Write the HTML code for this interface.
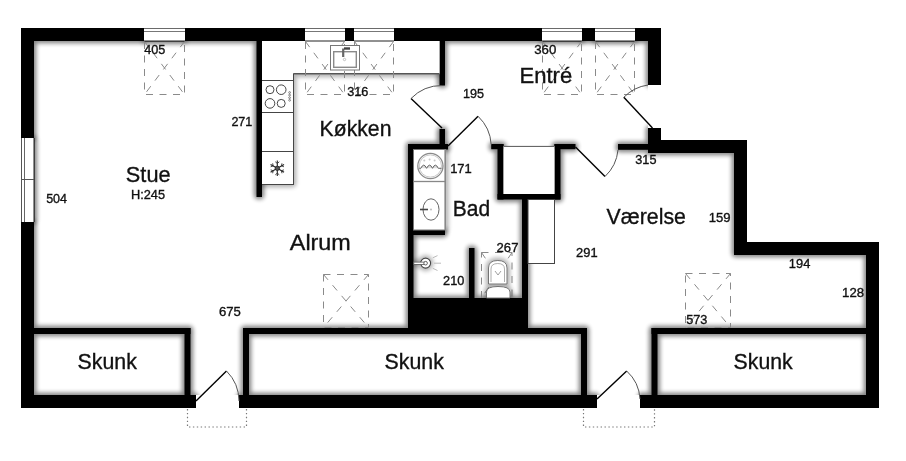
<!DOCTYPE html>
<html><head><meta charset="utf-8"><style>
html,body{margin:0;padding:0;background:#fff;}
svg{display:block;}
text{font-family:"Liberation Sans",sans-serif;fill:#111;stroke:#111;stroke-width:0.35px;}
</style></head><body>
<svg width="906" height="461" viewBox="0 0 906 461">
<defs>
<filter id="sh" x="-5%" y="-5%" width="110%" height="110%">
<feGaussianBlur in="SourceAlpha" stdDeviation="1.5" result="a1"/>
<feComponentTransfer in="a1" result="a2"><feFuncA type="linear" slope="12" intercept="-0.1"/></feComponentTransfer>
<feGaussianBlur in="a2" stdDeviation="2" result="a3"/>
<feComponentTransfer in="a3" result="c"><feFuncA type="linear" slope="0.48"/></feComponentTransfer>
<feMerge><feMergeNode in="c"/><feMergeNode in="SourceGraphic"/></feMerge>
</filter>
<filter id="sh2" x="-5%" y="-5%" width="110%" height="110%">
<feGaussianBlur in="SourceAlpha" stdDeviation="1.5" result="a1"/>
<feComponentTransfer in="a1" result="a2"><feFuncA type="linear" slope="12" intercept="-0.1"/></feComponentTransfer>
<feGaussianBlur in="a2" stdDeviation="2" result="a3"/>
<feComponentTransfer in="a3" result="c"><feFuncA type="linear" slope="0.3"/></feComponentTransfer>
<feMerge><feMergeNode in="c"/><feMergeNode in="SourceGraphic"/></feMerge>
</filter>
<filter id="idf" x="0" y="0" width="1" height="1"><feOffset dx="0" dy="0"/></filter>
</defs>
<rect width="906" height="461" fill="#fff"/>
<g filter="url(#sh)">
<rect x="21" y="28" width="123" height="13" fill="#000"/><rect x="185" y="28" width="120" height="13" fill="#000"/><rect x="345" y="28" width="9" height="13" fill="#000"/><rect x="394" y="28" width="148" height="13" fill="#000"/><rect x="582" y="28" width="13" height="13" fill="#000"/><rect x="635" y="28" width="26" height="13" fill="#000"/><rect x="21" y="28" width="13" height="110" fill="#000"/><rect x="21" y="222" width="13" height="186" fill="#000"/><rect x="648" y="28" width="13" height="57" fill="#000"/><rect x="648" y="128" width="13" height="25" fill="#000"/><rect x="648" y="140" width="99" height="13" fill="#000"/><rect x="734" y="140" width="13" height="115" fill="#000"/><rect x="734" y="242" width="145" height="13" fill="#000"/><rect x="866" y="242" width="13" height="166" fill="#000"/><rect x="21" y="395" width="175" height="13" fill="#000"/><rect x="239" y="395" width="358" height="13" fill="#000"/><rect x="640" y="395" width="239" height="13" fill="#000"/><rect x="256.5" y="41" width="5.5" height="156" fill="#000"/><rect x="439.5" y="41" width="5.5" height="44.5" fill="#000"/><rect x="439.5" y="129" width="5.5" height="20.5" fill="#000"/><rect x="408" y="144" width="40" height="5.5" fill="#000"/><rect x="408" y="144" width="5.5" height="190" fill="#000"/><rect x="408" y="298" width="120" height="36" fill="#000"/><rect x="522" y="194" width="6" height="140" fill="#000"/><rect x="469" y="248" width="5.5" height="50" fill="#000"/><rect x="413" y="230" width="32" height="5" fill="#000"/><rect x="491.2" y="144" width="12.3" height="5.2" fill="#000"/><rect x="497.5" y="144" width="6.0" height="55.5" fill="#000"/><rect x="497.5" y="194" width="63.0" height="5.5" fill="#000"/><rect x="554.5" y="144" width="6.0" height="55.5" fill="#000"/><rect x="554.5" y="144" width="21.0" height="5.2" fill="#000"/><rect x="618" y="144" width="30" height="5.8" fill="#000"/><rect x="34" y="328" width="156.5" height="6" fill="#000"/><rect x="184.5" y="328" width="6.0" height="67" fill="#000"/><rect x="243" y="328" width="344" height="6" fill="#000"/><rect x="243" y="328" width="6" height="67" fill="#000"/><rect x="581" y="328" width="6" height="67" fill="#000"/><rect x="651.5" y="328" width="214.5" height="6" fill="#000"/><rect x="651.5" y="328" width="6.0" height="67" fill="#000"/>
</g>
<g filter="url(#sh)"><rect x="144" y="28" width="41" height="13" fill="#fff"/><line x1="144" y1="28.5" x2="185" y2="28.5" stroke="#6a6a6a" stroke-width="1" /><line x1="144" y1="31.5" x2="185" y2="31.5" stroke="#777" stroke-width="1" /><line x1="144" y1="41" x2="185" y2="41" stroke="#222" stroke-width="1" /><rect x="305" y="28" width="40" height="13" fill="#fff"/><line x1="305" y1="28.5" x2="345" y2="28.5" stroke="#6a6a6a" stroke-width="1" /><line x1="305" y1="31.5" x2="345" y2="31.5" stroke="#777" stroke-width="1" /><line x1="305" y1="41" x2="345" y2="41" stroke="#222" stroke-width="1" /><rect x="354" y="28" width="40" height="13" fill="#fff"/><line x1="354" y1="28.5" x2="394" y2="28.5" stroke="#6a6a6a" stroke-width="1" /><line x1="354" y1="31.5" x2="394" y2="31.5" stroke="#777" stroke-width="1" /><line x1="354" y1="41" x2="394" y2="41" stroke="#222" stroke-width="1" /><rect x="542" y="28" width="40" height="13" fill="#fff"/><line x1="542" y1="28.5" x2="582" y2="28.5" stroke="#6a6a6a" stroke-width="1" /><line x1="542" y1="31.5" x2="582" y2="31.5" stroke="#777" stroke-width="1" /><line x1="542" y1="41" x2="582" y2="41" stroke="#222" stroke-width="1" /><rect x="595" y="28" width="40" height="13" fill="#fff"/><line x1="595" y1="28.5" x2="635" y2="28.5" stroke="#6a6a6a" stroke-width="1" /><line x1="595" y1="31.5" x2="635" y2="31.5" stroke="#777" stroke-width="1" /><line x1="595" y1="41" x2="635" y2="41" stroke="#222" stroke-width="1" /><rect x="21" y="138" width="13" height="84" fill="#fff"/><line x1="21.5" y1="138" x2="21.5" y2="222" stroke="#555" stroke-width="1" /><line x1="24.5" y1="138" x2="24.5" y2="222" stroke="#666" stroke-width="1" /><line x1="34" y1="138" x2="34" y2="222" stroke="#222" stroke-width="1" /><line x1="21" y1="179.5" x2="34" y2="179.5" stroke="#555" stroke-width="1" /></g>
<g><path d="M481.5 252.5 H512 V298 M481.5 298 V252.5" fill="none" stroke="#8a8a8a" stroke-width="1" stroke-dasharray="7 6.5"/><line x1="481.5" y1="252.5" x2="512" y2="298" stroke="#8a8a8a" stroke-width="1" stroke-dasharray="7 7"/><line x1="512" y1="252.5" x2="481.5" y2="298" stroke="#8a8a8a" stroke-width="1" stroke-dasharray="7 7"/></g>
<g filter="url(#sh2)"><path d="M262 41 H439.5 V73.8 H293.5 V184.5 H262 Z" fill="#fff"/><line x1="293.5" y1="73.8" x2="439.5" y2="73.8" stroke="#555" stroke-width="1.6" /><line x1="293.5" y1="73.5" x2="293.5" y2="185" stroke="#444" stroke-width="1" /><line x1="262" y1="80.5" x2="293.5" y2="80.5" stroke="#444" stroke-width="1" /><line x1="262" y1="112.5" x2="293.5" y2="112.5" stroke="#444" stroke-width="1" /><line x1="262" y1="151.5" x2="293.5" y2="151.5" stroke="#444" stroke-width="1" /><line x1="262" y1="184.5" x2="293.5" y2="184.5" stroke="#444" stroke-width="1" /><rect x="413.5" y="149.5" width="31.8" height="80.5" fill="#fff" stroke="#777" stroke-width="1"/><line x1="445.3" y1="149.5" x2="445.3" y2="230" stroke="#888" stroke-width="1.6" /><circle cx="425.6" cy="263.1" r="5" fill="#fff" stroke="#444" stroke-width="1.1"/><rect x="413.8" y="262.1" width="11.8" height="2.3" fill="#fff" stroke="#555" stroke-width="0.8"/><circle cx="425.6" cy="263.2" r="1.8" fill="#fff" stroke="#555" stroke-width="0.9"/><path d="M488.5 284 V268 Q488.5 260.5 497.8 260.5 Q507 260.5 507 268 V284 Z" fill="#fff" stroke="#666" stroke-width="0.9"/><path d="M486.5 298 V292 Q486.5 286.5 498 286.5 Q510 286.5 510 292 V298 Z" fill="#fff" stroke="#666" stroke-width="0.9"/></g>
<g><circle cx="270" cy="89.7" r="4" fill="none" stroke="#333" stroke-width="0.9"/><circle cx="281.2" cy="89.7" r="4.8" fill="none" stroke="#333" stroke-width="0.9"/><circle cx="270" cy="103.4" r="4.8" fill="none" stroke="#333" stroke-width="0.9"/><circle cx="281.2" cy="103.4" r="4" fill="none" stroke="#333" stroke-width="0.9"/><circle cx="289.6" cy="92.5" r="0.9" fill="none" stroke="#444" stroke-width="0.6"/><circle cx="289.6" cy="95.1" r="0.9" fill="none" stroke="#444" stroke-width="0.6"/><circle cx="289.6" cy="97.7" r="0.9" fill="none" stroke="#444" stroke-width="0.6"/><circle cx="289.6" cy="100.3" r="0.9" fill="none" stroke="#444" stroke-width="0.6"/><line x1="277.3" y1="168.3" x2="277.3" y2="160.5" stroke="#222" stroke-width="1.1" /><line x1="277.3" y1="163.46" x2="279.29" y2="161.79" stroke="#333" stroke-width="0.9" /><line x1="277.3" y1="163.46" x2="275.31" y2="161.79" stroke="#333" stroke-width="0.9" /><line x1="277.3" y1="168.3" x2="270.55" y2="164.4" stroke="#222" stroke-width="1.1" /><line x1="273.11" y1="165.88" x2="272.66" y2="163.32" stroke="#333" stroke-width="0.9" /><line x1="273.11" y1="165.88" x2="270.67" y2="166.77" stroke="#333" stroke-width="0.9" /><line x1="277.3" y1="168.3" x2="270.55" y2="172.2" stroke="#222" stroke-width="1.1" /><line x1="273.11" y1="170.72" x2="270.67" y2="169.83" stroke="#333" stroke-width="0.9" /><line x1="273.11" y1="170.72" x2="272.66" y2="173.28" stroke="#333" stroke-width="0.9" /><line x1="277.3" y1="168.3" x2="277.3" y2="176.1" stroke="#222" stroke-width="1.1" /><line x1="277.3" y1="173.14" x2="275.31" y2="174.81" stroke="#333" stroke-width="0.9" /><line x1="277.3" y1="173.14" x2="279.29" y2="174.81" stroke="#333" stroke-width="0.9" /><line x1="277.3" y1="168.3" x2="284.05" y2="172.2" stroke="#222" stroke-width="1.1" /><line x1="281.49" y1="170.72" x2="281.94" y2="173.28" stroke="#333" stroke-width="0.9" /><line x1="281.49" y1="170.72" x2="283.93" y2="169.83" stroke="#333" stroke-width="0.9" /><line x1="277.3" y1="168.3" x2="284.05" y2="164.4" stroke="#222" stroke-width="1.1" /><line x1="281.49" y1="165.88" x2="283.93" y2="166.77" stroke="#333" stroke-width="0.9" /><line x1="281.49" y1="165.88" x2="281.94" y2="163.32" stroke="#333" stroke-width="0.9" /><circle cx="277.3" cy="168.3" r="2.2" fill="#555" stroke="#222" stroke-width="0.8"/><line x1="413.5" y1="181.5" x2="445" y2="181.5" stroke="#888" stroke-width="1.3" /><circle cx="430.4" cy="166" r="12.6" fill="none" stroke="#8a8a8a" stroke-width="1.3"/><circle cx="430.4" cy="166" r="11.1" fill="none" stroke="#bbb" stroke-width="0.8"/><path d="M419.3 168.3 H420.8 Q423.7 162 426.6 168.3 Q429.6 162 432.5 168.3 Q435.4 162 438.3 168.3 H441.5" fill="#ddd" stroke="#555" stroke-width="0.9"/><circle cx="424.3" cy="160.6" r="1" fill="#c8c8c8"/><circle cx="429.6" cy="159.4" r="1" fill="#c8c8c8"/><circle cx="434.6" cy="160.6" r="1" fill="#c8c8c8"/><ellipse cx="431" cy="209.5" rx="8" ry="10.7" fill="none" stroke="#555" stroke-width="0.9"/><line x1="420" y1="209.5" x2="428" y2="209.5" stroke="#444" stroke-width="1.6" /><circle cx="431" cy="209.5" r="1" fill="#bbb"/><line x1="432.8" y1="257.8" x2="437.5" y2="255.6" stroke="#bbb" stroke-width="1" /><line x1="434" y1="263.2" x2="441" y2="263.2" stroke="#bbb" stroke-width="1" /><line x1="432.8" y1="268.3" x2="437.5" y2="270.5" stroke="#bbb" stroke-width="1" /><path d="M491 282 V269 Q491 263.5 497.8 263.5 Q504.5 263.5 504.5 269 V282" fill="none" stroke="#999" stroke-width="0.8"/><line x1="495" y1="271" x2="498" y2="275" stroke="#888" stroke-width="0.8" /><line x1="501" y1="271" x2="498" y2="275" stroke="#888" stroke-width="0.8" /><rect x="528" y="199.5" width="26.5" height="64" fill="#fff" stroke="#444" stroke-width="1"/><rect x="503.5" y="146" width="51.0" height="48" fill="#fff"/><line x1="503.5" y1="146.4" x2="554.5" y2="146.4" stroke="#555" stroke-width="1" /></g>
<g><rect x="144" y="28" width="41" height="13" fill="#fff"/><line x1="144" y1="28.5" x2="185" y2="28.5" stroke="#6a6a6a" stroke-width="1" /><line x1="144" y1="31.5" x2="185" y2="31.5" stroke="#777" stroke-width="1" /><line x1="144" y1="41" x2="185" y2="41" stroke="#222" stroke-width="1" /><rect x="305" y="28" width="40" height="13" fill="#fff"/><line x1="305" y1="28.5" x2="345" y2="28.5" stroke="#6a6a6a" stroke-width="1" /><line x1="305" y1="31.5" x2="345" y2="31.5" stroke="#777" stroke-width="1" /><line x1="305" y1="41" x2="345" y2="41" stroke="#222" stroke-width="1" /><rect x="354" y="28" width="40" height="13" fill="#fff"/><line x1="354" y1="28.5" x2="394" y2="28.5" stroke="#6a6a6a" stroke-width="1" /><line x1="354" y1="31.5" x2="394" y2="31.5" stroke="#777" stroke-width="1" /><line x1="354" y1="41" x2="394" y2="41" stroke="#222" stroke-width="1" /><rect x="542" y="28" width="40" height="13" fill="#fff"/><line x1="542" y1="28.5" x2="582" y2="28.5" stroke="#6a6a6a" stroke-width="1" /><line x1="542" y1="31.5" x2="582" y2="31.5" stroke="#777" stroke-width="1" /><line x1="542" y1="41" x2="582" y2="41" stroke="#222" stroke-width="1" /><rect x="595" y="28" width="40" height="13" fill="#fff"/><line x1="595" y1="28.5" x2="635" y2="28.5" stroke="#6a6a6a" stroke-width="1" /><line x1="595" y1="31.5" x2="635" y2="31.5" stroke="#777" stroke-width="1" /><line x1="595" y1="41" x2="635" y2="41" stroke="#222" stroke-width="1" /><rect x="21" y="138" width="13" height="84" fill="#fff"/><line x1="21.5" y1="138" x2="21.5" y2="222" stroke="#555" stroke-width="1" /><line x1="24.5" y1="138" x2="24.5" y2="222" stroke="#666" stroke-width="1" /><line x1="34" y1="138" x2="34" y2="222" stroke="#222" stroke-width="1" /><line x1="21" y1="179.5" x2="34" y2="179.5" stroke="#555" stroke-width="1" /></g>
<path d="M0 0 H906 V461 H0 Z M21 28 H661 V140 H747 V242 H879 V408 H21 Z" fill="#fff" fill-rule="evenodd"/>
<rect x="196" y="395" width="43" height="13" fill="#fff"/><rect x="597" y="395" width="43" height="13" fill="#fff"/><rect x="648" y="85" width="13" height="43" fill="#fff"/>

<g><path d="M144.5 42 V94.5 H184.5 V42" fill="none" stroke="#8a8a8a" stroke-width="1" stroke-dasharray="7 6.5"/><line x1="144.5" y1="41.5" x2="184.5" y2="94.5" stroke="#8a8a8a" stroke-width="1" stroke-dasharray="7 7"/><line x1="184.5" y1="41.5" x2="144.5" y2="94.5" stroke="#8a8a8a" stroke-width="1" stroke-dasharray="7 7"/><path d="M305.5 42 V94.5 H344.5 V42" fill="none" stroke="#8a8a8a" stroke-width="1" stroke-dasharray="7 6.5"/><line x1="305.5" y1="41.5" x2="344.5" y2="94.5" stroke="#8a8a8a" stroke-width="1" stroke-dasharray="7 7"/><line x1="344.5" y1="41.5" x2="305.5" y2="94.5" stroke="#8a8a8a" stroke-width="1" stroke-dasharray="7 7"/><path d="M354.5 42 V94.5 H393.5 V42" fill="none" stroke="#8a8a8a" stroke-width="1" stroke-dasharray="7 6.5"/><line x1="354.5" y1="41.5" x2="393.5" y2="94.5" stroke="#8a8a8a" stroke-width="1" stroke-dasharray="7 7"/><line x1="393.5" y1="41.5" x2="354.5" y2="94.5" stroke="#8a8a8a" stroke-width="1" stroke-dasharray="7 7"/><path d="M542.5 42 V94.5 H581.5 V42" fill="none" stroke="#8a8a8a" stroke-width="1" stroke-dasharray="7 6.5"/><line x1="542.5" y1="41.5" x2="581.5" y2="94.5" stroke="#8a8a8a" stroke-width="1" stroke-dasharray="7 7"/><line x1="581.5" y1="41.5" x2="542.5" y2="94.5" stroke="#8a8a8a" stroke-width="1" stroke-dasharray="7 7"/><path d="M595.5 42 V94.5 H634.5 V42" fill="none" stroke="#8a8a8a" stroke-width="1" stroke-dasharray="7 6.5"/><line x1="595.5" y1="41.5" x2="634.5" y2="94.5" stroke="#8a8a8a" stroke-width="1" stroke-dasharray="7 7"/><line x1="634.5" y1="41.5" x2="595.5" y2="94.5" stroke="#8a8a8a" stroke-width="1" stroke-dasharray="7 7"/><path d="M323.5 274.5 H368.5 V327.5 H323.5 Z" fill="none" stroke="#8a8a8a" stroke-width="1" stroke-dasharray="7 6.5"/><line x1="323.5" y1="274.5" x2="368.5" y2="327.5" stroke="#8a8a8a" stroke-width="1" stroke-dasharray="7 7"/><line x1="368.5" y1="274.5" x2="323.5" y2="327.5" stroke="#8a8a8a" stroke-width="1" stroke-dasharray="7 7"/><path d="M685.5 273.5 H730.5 V327.5 H685.5 Z" fill="none" stroke="#8a8a8a" stroke-width="1" stroke-dasharray="7 6.5"/><line x1="685.5" y1="273.5" x2="730.5" y2="327.5" stroke="#8a8a8a" stroke-width="1" stroke-dasharray="7 7"/><line x1="730.5" y1="273.5" x2="685.5" y2="327.5" stroke="#8a8a8a" stroke-width="1" stroke-dasharray="7 7"/><path d="M187.5 409 V427 H246.5 V409" fill="none" stroke="#777" stroke-width="1.2" stroke-dasharray="1.4 2.5"/><path d="M583.5 409 V427 H654.5 V409" fill="none" stroke="#777" stroke-width="1.2" stroke-dasharray="1.4 2.5"/></g>
<g><rect x="330.5" y="45.5" width="29" height="24.5" fill="#fff" stroke="#777" stroke-width="1"/><rect x="333.7" y="51.7" width="22.6" height="15.6" fill="none" stroke="#8a8a8a" stroke-width="1.4"/><path d="M343.2 57 V48.5" fill="none" stroke="#666" stroke-width="2.2"/><path d="M344 48.5 H350" fill="none" stroke="#444" stroke-width="2.4"/><circle cx="344.5" cy="59.5" r="1.2" fill="none" stroke="#aaa" stroke-width="0.7"/></g>
<g><line x1="442" y1="128" x2="411" y2="98.5" stroke="#000" stroke-width="1.4" /><path d="M411 98.5 A42.79 42.79 0 0 1 442 85.5" fill="none" stroke="#555" stroke-width="1"/><line x1="448" y1="146" x2="478.1" y2="116.3" stroke="#000" stroke-width="1.4" /><path d="M478.1 116.3 A42.29 42.29 0 0 1 491.2 144.5" fill="none" stroke="#555" stroke-width="1"/><line x1="652.5" y1="128" x2="623.8" y2="97.3" stroke="#000" stroke-width="1.4" /><path d="M623.8 97.3 A42.03 42.03 0 0 1 648 85" fill="none" stroke="#555" stroke-width="1"/><line x1="575.5" y1="147" x2="605" y2="176.5" stroke="#000" stroke-width="1.4" /><path d="M605 176.5 A42 42 0 0 0 618 150" fill="none" stroke="#555" stroke-width="1"/><line x1="196" y1="401" x2="226.5" y2="371" stroke="#000" stroke-width="1.4" /><path d="M226.5 371 A42.78 42.78 0 0 1 239 401" fill="none" stroke="#555" stroke-width="1"/><line x1="597" y1="399" x2="626.7" y2="371" stroke="#000" stroke-width="1.4" /><path d="M626.7 371 A40.82 40.82 0 0 1 640 399" fill="none" stroke="#555" stroke-width="1"/></g>
<g filter="url(#idf)"><text x="144.31" y="53.97" font-size="12.70" textLength="21.10" lengthAdjust="spacingAndGlyphs">405</text><text x="347.20" y="95.97" font-size="12.70" textLength="21.22" lengthAdjust="spacingAndGlyphs">316</text><text x="534.25" y="54.36" font-size="12.70" textLength="22.09" lengthAdjust="spacingAndGlyphs">360</text><text x="462.90" y="97.83" font-size="12.70" textLength="21.07" lengthAdjust="spacingAndGlyphs">195</text><text x="231.39" y="125.69" font-size="12.70" textLength="20.99" lengthAdjust="spacingAndGlyphs">271</text><text x="450.17" y="172.73" font-size="12.70" textLength="21.64" lengthAdjust="spacingAndGlyphs">171</text><text x="46.13" y="203.34" font-size="12.70" textLength="20.92" lengthAdjust="spacingAndGlyphs">504</text><text x="130.99" y="199.21" font-size="12.70" textLength="34.07" lengthAdjust="spacingAndGlyphs">H:245</text><text x="635.29" y="163.69" font-size="12.70" textLength="21.15" lengthAdjust="spacingAndGlyphs">315</text><text x="708.73" y="221.69" font-size="12.70" textLength="21.81" lengthAdjust="spacingAndGlyphs">159</text><text x="576.09" y="257.35" font-size="12.70" textLength="21.52" lengthAdjust="spacingAndGlyphs">291</text><text x="496.59" y="251.97" font-size="12.70" textLength="21.84" lengthAdjust="spacingAndGlyphs">267</text><text x="443.10" y="284.97" font-size="12.70" textLength="21.23" lengthAdjust="spacingAndGlyphs">210</text><text x="219.00" y="315.83" font-size="12.70" textLength="21.89" lengthAdjust="spacingAndGlyphs">675</text><text x="788.84" y="267.69" font-size="12.70" textLength="21.49" lengthAdjust="spacingAndGlyphs">194</text><text x="842.14" y="296.69" font-size="12.70" textLength="21.99" lengthAdjust="spacingAndGlyphs">128</text><text x="686.17" y="323.97" font-size="12.70" textLength="21.22" lengthAdjust="spacingAndGlyphs">573</text><text x="125.86" y="182.35" font-size="22.38" textLength="44.68" lengthAdjust="spacingAndGlyphs">Stue</text><text x="319.58" y="136.45" font-size="21.95" textLength="71.84" lengthAdjust="spacingAndGlyphs">Køkken</text><text x="519.47" y="83.12" font-size="21.88" textLength="52.73" lengthAdjust="spacingAndGlyphs">Entré</text><text x="452.80" y="215.71" font-size="22.62" textLength="37.33" lengthAdjust="spacingAndGlyphs">Bad</text><text x="606.62" y="223.69" font-size="22.67" textLength="79.29" lengthAdjust="spacingAndGlyphs">Værelse</text><text x="289.84" y="249.59" font-size="22.24" textLength="60.95" lengthAdjust="spacingAndGlyphs">Alrum</text><text x="77.56" y="369.45" font-size="22.53" textLength="59.28" lengthAdjust="spacingAndGlyphs">Skunk</text><text x="384.56" y="369.45" font-size="22.53" textLength="59.28" lengthAdjust="spacingAndGlyphs">Skunk</text><text x="733.60" y="368.83" font-size="22.53" textLength="59.03" lengthAdjust="spacingAndGlyphs">Skunk</text></g>
</svg>
</body></html>
